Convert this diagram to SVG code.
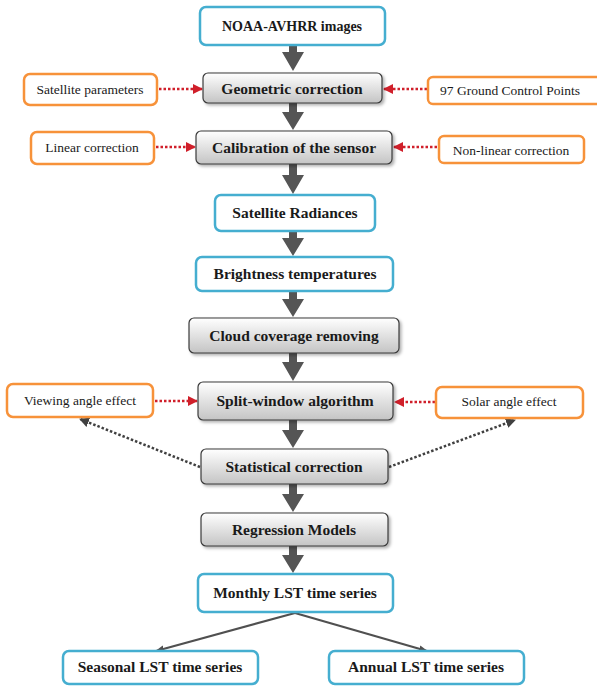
<svg xmlns="http://www.w3.org/2000/svg" width="597" height="686" viewBox="0 0 597 686">
<defs>
  <linearGradient id="gg" x1="0" y1="0" x2="0" y2="1">
    <stop offset="0" stop-color="#ffffff"/>
    <stop offset="1" stop-color="#c4c4c4"/>
  </linearGradient>
  <filter id="sh" x="-10%" y="-20%" width="130%" height="160%">
    <feDropShadow dx="2" dy="2" stdDeviation="1.5" flood-color="#000" flood-opacity="0.3"/>
  </filter>
  <marker id="mr" viewBox="0 0 10 10" refX="9" refY="5" markerWidth="4" markerHeight="4" orient="auto" markerUnits="strokeWidth">
    <path d="M0,0 L10,5 L0,10 z" fill="#d01f2a"/>
  </marker>
  <marker id="md" viewBox="0 0 10 10" refX="9" refY="5" markerWidth="4" markerHeight="4" orient="auto" markerUnits="strokeWidth">
    <path d="M0,0 L10,5 L0,10 z" fill="#404040"/>
  </marker>
  <marker id="mt" viewBox="0 0 10 10" refX="9" refY="5" markerWidth="4" markerHeight="4" orient="auto" markerUnits="strokeWidth">
    <path d="M0,1 L10,5 L0,9 z" fill="#505050"/>
  </marker>
</defs>
<style>
  .blue{fill:#fff;stroke:#45aed0;stroke-width:2.5}
  .gray{fill:url(#gg);stroke:#3a3a3a;stroke-width:1.2;filter:url(#sh)}
  .orng{fill:#fff;stroke:#f7923a;stroke-width:2.5}
  .bt{font-family:"Liberation Serif",serif;font-weight:bold;font-size:15.5px;fill:#1a1a1a;text-anchor:middle}
  .st{font-family:"Liberation Serif",serif;font-size:13.5px;fill:#1a1a1a;text-anchor:middle}
  .blk{fill:#555}
  .rd{stroke:#d01f2a;stroke-width:2.5;stroke-dasharray:2.5 2;fill:none;marker-end:url(#mr)}
  .dk{stroke:#404040;stroke-width:2.5;stroke-dasharray:2.5 2;fill:none;marker-end:url(#md)}
  .tn{stroke:#505050;stroke-width:2.2;fill:none;marker-end:url(#mt)}
</style>

<g id="connectors">
  <path class="blk" d="M289,45 V52 H282 L293,71 L304,52 H297 V45 z"/>
  <path class="blk" d="M289,103 V112 H282 L293,130 L304,112 H297 V103 z"/>
  <path class="blk" d="M289,164 V175 H282 L293,194 L304,175 H297 V164 z"/>
  <path class="blk" d="M289,231 V238 H282 L293,256 L304,238 H297 V231 z"/>
  <path class="blk" d="M289,291 V299 H282 L293,317 L304,299 H297 V291 z"/>
  <path class="blk" d="M289,353 V362 H282 L293,381 L304,362 H297 V353 z"/>
  <path class="blk" d="M289,420 V430 H282 L293,448 L304,430 H297 V420 z"/>
  <path class="blk" d="M289,484 V494 H282 L293,512 L304,494 H297 V484 z"/>
  <path class="blk" d="M289,546 V555 H282 L293,573 L304,555 H297 V546 z"/>

  <line class="rd" x1="159" y1="89" x2="202" y2="89"/>
  <line class="rd" x1="427" y1="89" x2="384" y2="89"/>
  <line class="rd" x1="156" y1="147" x2="195" y2="147"/>
  <line class="rd" x1="437" y1="147" x2="394" y2="147"/>
  <line class="rd" x1="155" y1="401" x2="197" y2="401"/>
  <line class="rd" x1="435" y1="402" x2="395" y2="402"/>

  <line class="dk" x1="200" y1="467" x2="80" y2="419"/>
  <line class="dk" x1="389" y1="467" x2="515" y2="420"/>

  <line class="tn" x1="295" y1="613" x2="156" y2="651"/>
  <line class="tn" x1="295" y1="613" x2="427" y2="651"/>
</g>

<g id="noaa"><rect class="blue" x="200" y="7" width="185" height="38" rx="6"/><text class="bt" x="292" y="31" style="font-size:14px">NOAA-AVHRR images</text></g>
<g id="geometric"><rect class="gray" x="203" y="73" width="179" height="30" rx="5"/><text class="bt" x="292" y="94">Geometric correction</text></g>
<g id="satparams"><rect class="orng" x="24" y="74" width="133" height="31" rx="6"/><text class="st" x="90" y="94">Satellite parameters</text></g>
<g id="gcp"><rect class="orng" x="428" y="77" width="175" height="27" rx="5"/><text class="st" x="510" y="95">97 Ground Control Points</text></g>
<g id="calibration"><rect class="gray" x="196" y="131" width="196" height="33" rx="5"/><text class="bt" x="294" y="153">Calibration of the sensor</text></g>
<g id="linear"><rect class="orng" x="31" y="132" width="123" height="32" rx="6"/><text class="st" x="92" y="152">Linear correction</text></g>
<g id="nonlinear"><rect class="orng" x="439" y="136" width="145" height="27" rx="5"/><text class="st" x="511" y="155">Non-linear correction</text></g>
<g id="radiances"><rect class="blue" x="215" y="195" width="160" height="36" rx="6"/><text class="bt" x="295" y="218">Satellite Radiances</text></g>
<g id="brightness"><rect class="blue" x="196" y="257" width="197" height="34" rx="6"/><text class="bt" x="295" y="279">Brightness temperatures</text></g>
<g id="cloud"><rect class="gray" x="189" y="318" width="210" height="35" rx="5"/><text class="bt" x="294" y="341">Cloud coverage removing</text></g>
<g id="splitwindow"><rect class="gray" x="198" y="382" width="195" height="38" rx="5"/><text class="bt" x="295" y="406">Split-window algorithm</text></g>
<g id="viewing"><rect class="orng" x="7" y="384" width="146" height="33" rx="6"/><text class="st" x="80" y="405">Viewing angle effect</text></g>
<g id="solar"><rect class="orng" x="436" y="387" width="147" height="31" rx="6"/><text class="st" x="509" y="406">Solar angle effect</text></g>
<g id="statistical"><rect class="gray" x="201" y="449" width="187" height="35" rx="5"/><text class="bt" x="294" y="472">Statistical correction</text></g>
<g id="regression"><rect class="gray" x="201" y="513" width="187" height="33" rx="5"/><text class="bt" x="294" y="535">Regression Models</text></g>
<g id="monthly"><rect class="blue" x="198" y="574" width="195" height="38" rx="6"/><text class="bt" x="295" y="598">Monthly LST time series</text></g>
<g id="seasonal"><rect class="blue" x="63" y="651" width="195" height="33" rx="6"/><text class="bt" x="160" y="672">Seasonal LST time series</text></g>
<g id="annual"><rect class="blue" x="329" y="651" width="195" height="33" rx="6"/><text class="bt" x="426" y="672">Annual LST time series</text></g>
</svg>
